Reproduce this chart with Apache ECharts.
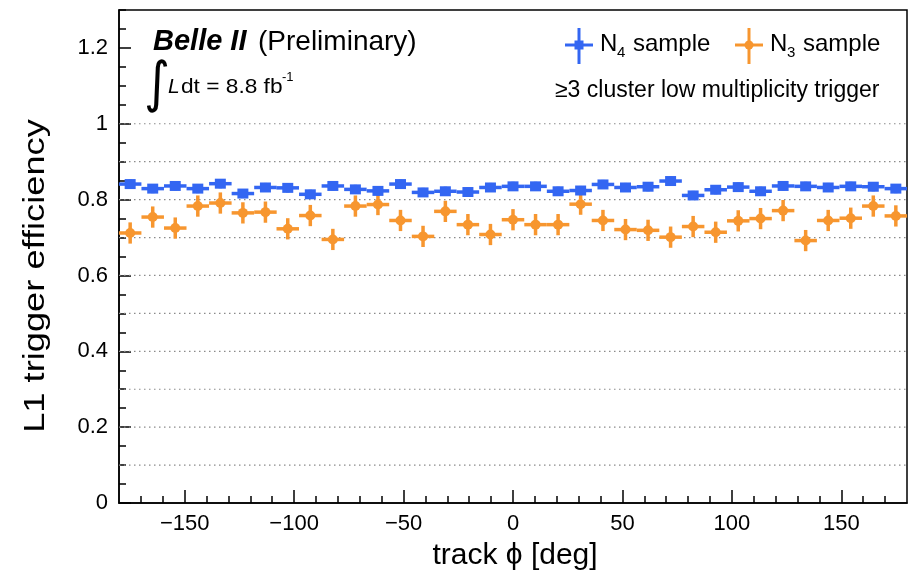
<!DOCTYPE html>
<html><head><meta charset="utf-8">
<script src="https://cdn.jsdelivr.net/npm/echarts@6/dist/echarts.min.js"></script>
<style>html,body{margin:0;padding:0;background:#fff}#c{width:915px;height:575px}</style>
</head><body><div id="c"></div>
<script>
// bin centres of track phi (35 bins over -180..180 deg)
const phiCenters = [-174.9,-164.6,-154.3,-144.0,-133.7,-123.4,-113.1,-102.9,-92.6,-82.3,-72.0,-61.7,-51.4,-41.1,-30.9,-20.6,-10.3,0,
  10.3,20.6,30.9,41.1,51.4,61.7,72.0,82.3,92.6,102.9,113.1,123.4,133.7,144.0,154.3,164.6,174.9];
const binHalfWidth = 5.14;
const n4Eff = [0.841,0.829,0.836,0.829,0.842,0.816,0.832,0.831,0.814,0.836,0.827,0.823,0.841,0.819,0.822,0.820,0.832,0.835,
  0.835,0.822,0.824,0.840,0.832,0.834,0.849,0.811,0.826,0.833,0.822,0.836,0.835,0.832,0.835,0.834,0.829];
const n4Err = [0.012,0.012,0.012,0.012,0.012,0.012,0.012,0.012,0.012,0.012,0.012,0.012,0.012,0.012,0.012,0.012,0.012,0.012,
  0.012,0.012,0.012,0.012,0.012,0.012,0.012,0.012,0.012,0.012,0.012,0.012,0.012,0.012,0.012,0.012,0.012];
const n3Eff = [0.712,0.754,0.725,0.783,0.791,0.765,0.767,0.723,0.758,0.695,0.783,0.787,0.745,0.703,0.769,0.734,0.708,0.747,
  0.734,0.734,0.788,0.745,0.721,0.719,0.701,0.729,0.714,0.744,0.750,0.771,0.692,0.745,0.751,0.783,0.757];
const n3Err = [0.028,0.028,0.028,0.028,0.028,0.028,0.028,0.028,0.028,0.028,0.028,0.028,0.028,0.028,0.028,0.028,0.028,0.028,
  0.028,0.028,0.028,0.028,0.028,0.028,0.028,0.028,0.028,0.028,0.028,0.028,0.028,0.028,0.028,0.028,0.028];
const xMajorTicks = [-150,-100,-50,0,50,100,150];
const xMinorTicks = [-170,-160,-140,-130,-120,-110,-90,-80,-70,-60,-40,-30,-20,-10,10,20,30,40,60,70,80,90,110,120,130,140,160,170];
const yMajorTicks = [0,0.2,0.4,0.6,0.8,1.0,1.2];
const yMinorTicks = [0.05,0.1,0.15,0.25,0.3,0.35,0.45,0.5,0.55,0.65,0.7,0.75,0.85,0.9,0.95,1.05,1.1,1.15,1.25,1.3];
const gridLevels = [0.1,0.2,0.3,0.4,0.5,0.6,0.7,0.8,0.9,1.0];

const BLUE = '#3366f2', ORANGE = '#f7962f';
const FONT = 'Liberation Sans';

function errRender(kind, color) {
  return function (params, api) {
    const x = api.value(0), y = api.value(1), ex = api.value(2), ey = api.value(3);
    const pL = api.coord([x - ex, y]), pR = api.coord([x + ex, y]);
    const pT = api.coord([x, y + ey]), pB = api.coord([x, y - ey]);
    const c = api.coord([x, y]);
    const st = { stroke: color, lineWidth: 3.5 };
    const ch = [
      { type: 'line', shape: { x1: pL[0], y1: pL[1], x2: pR[0], y2: pR[1] }, style: st },
      { type: 'line', shape: { x1: pT[0], y1: pT[1], x2: pB[0], y2: pB[1] }, style: st }
    ];
    if (kind === 'square') ch.push({ type: 'rect', shape: { x: c[0] - 5.5, y: c[1] - 5, width: 11, height: 10 }, style: { fill: color } });
    else ch.push({ type: 'circle', shape: { cx: c[0], cy: c[1], r: 5 }, style: { fill: color } });
    return { type: 'group', children: ch };
  };
}

const n4Data = phiCenters.map((x, i) => [x, n4Eff[i], binHalfWidth, n4Err[i]]);
const n3Data = phiCenters.map((x, i) => [x, n3Eff[i], binHalfWidth, n3Err[i]]);

const axisCommon = { type: 'value', splitLine: { show: false } };

const chart = echarts.init(document.getElementById('c'), null, { renderer: 'canvas' });
chart.setOption({
  animation: false,
  backgroundColor: '#fff',
  grid: { left: 119, right: 8, top: 10, bottom: 72, show: true, borderColor: '#000', borderWidth: 1.5, backgroundColor: 'transparent' },
  xAxis: [
    Object.assign({}, axisCommon, {
      min: -180, max: 180, position: 'bottom',
      axisLine: { show: true, onZero: false, lineStyle: { color: '#000', width: 1.5 } },
      axisTick: { show: true, inside: true, length: 13, customValues: xMajorTicks, lineStyle: { color: '#000', width: 1.5 } },
      axisLabel: { show: true, customValues: xMajorTicks, color: '#000', fontSize: 22, fontFamily: FONT, margin: 10,
        formatter: v => (v < 0 ? '\u2212' + (-v) : '' + v) }
    }),
    Object.assign({}, axisCommon, {
      min: -180, max: 180, position: 'bottom',
      axisLine: { show: false, onZero: false },
      axisTick: { show: true, inside: true, length: 7, customValues: xMinorTicks, lineStyle: { color: '#000', width: 1.5 } },
      axisLabel: { show: false }
    })
  ],
  yAxis: [
    Object.assign({}, axisCommon, {
      min: 0, max: 1.3, position: 'left',
      axisLine: { show: true, onZero: false, lineStyle: { color: '#000', width: 1.5 } },
      axisTick: { show: true, inside: true, length: 12, customValues: yMajorTicks, lineStyle: { color: '#000', width: 1.5 } },
      axisLabel: { show: true, customValues: yMajorTicks, color: '#000', fontSize: 22, fontFamily: FONT, margin: 11,
        formatter: v => (Math.abs(v) < 1e-9 ? '0' : (Math.abs(v - 1) < 1e-9 ? '1' : v.toFixed(1))) }
    }),
    Object.assign({}, axisCommon, {
      min: 0, max: 1.3, position: 'left',
      axisLine: { show: false, onZero: false },
      axisTick: { show: true, inside: true, length: 7, customValues: yMinorTicks, lineStyle: { color: '#000', width: 1.5 } },
      axisLabel: { show: false }
    })
  ],
  series: [
    {
      type: 'custom', name: 'grid', xAxisIndex: 0, yAxisIndex: 0, silent: true, z: 1,
      data: gridLevels.map(v => [v]),
      renderItem: function (params, api) {
        const v = api.value(0);
        const a = api.coord([-180, v]), b = api.coord([180, v]);
        return { type: 'line', shape: { x1: a[0], y1: a[1], x2: b[0], y2: b[1] },
          style: { stroke: '#8a8a8a', lineWidth: 1.2, lineDash: [1.5, 3.5] } };
      }
    },
    { type: 'custom', name: 'N3 sample', xAxisIndex: 0, yAxisIndex: 0, z: 3, data: n3Data, renderItem: errRender('circle', ORANGE) },
    { type: 'custom', name: 'N4 sample', xAxisIndex: 0, yAxisIndex: 0, z: 4, data: n4Data, renderItem: errRender('square', BLUE) }
  ],
  graphic: [
    { type: 'text', x: 153, y: 42, style: { text: 'Belle II', font: 'italic bold 29px "Liberation Sans"', fill: '#000', textVerticalAlign: 'middle' } },
    { type: 'text', x: 258, y: 42, style: { text: '(Preliminary)', font: '28px "Liberation Sans"', fill: '#000', textVerticalAlign: 'middle' } },
    { type: 'text', x: 144, y: 87, scaleY: 1.1, style: { text: '\u222B', font: '50px "DejaVu Sans"', fill: '#000', textVerticalAlign: 'middle' } },
    { type: 'text', x: 168, y: 87, style: { text: 'L', font: 'italic 21px "Liberation Sans"', fill: '#000', textVerticalAlign: 'middle' } },
    { type: 'text', x: 181, y: 87, scaleX: 1.08, style: { text: 'dt = 8.8 fb', font: '21px "Liberation Sans"', fill: '#000', textVerticalAlign: 'middle' } },
    { type: 'text', x: 282, y: 77, style: { text: '-1', font: '13px "Liberation Sans"', fill: '#000', textVerticalAlign: 'middle' } },
    // legend N4
    { type: 'line', shape: { x1: 565, y1: 45, x2: 593, y2: 45 }, style: { stroke: BLUE, lineWidth: 3 } },
    { type: 'line', shape: { x1: 579, y1: 28, x2: 579, y2: 64 }, style: { stroke: BLUE, lineWidth: 3 } },
    { type: 'rect', shape: { x: 574.5, y: 40.5, width: 9, height: 9 }, style: { fill: BLUE } },
    { type: 'text', x: 600, y: 44, style: { text: 'N', font: '24px "Liberation Sans"', fill: '#000', textVerticalAlign: 'middle' } },
    { type: 'text', x: 617, y: 53, style: { text: '4', font: '15px "Liberation Sans"', fill: '#000', textVerticalAlign: 'middle' } },
    { type: 'text', x: 633, y: 44, style: { text: 'sample', font: '24px "Liberation Sans"', fill: '#000', textVerticalAlign: 'middle' } },
    // legend N3
    { type: 'line', shape: { x1: 735, y1: 45, x2: 763, y2: 45 }, style: { stroke: ORANGE, lineWidth: 3 } },
    { type: 'line', shape: { x1: 749, y1: 28, x2: 749, y2: 64 }, style: { stroke: ORANGE, lineWidth: 3 } },
    { type: 'circle', shape: { cx: 749, cy: 45, r: 4.5 }, style: { fill: ORANGE } },
    { type: 'text', x: 770, y: 44, style: { text: 'N', font: '24px "Liberation Sans"', fill: '#000', textVerticalAlign: 'middle' } },
    { type: 'text', x: 787, y: 53, style: { text: '3', font: '15px "Liberation Sans"', fill: '#000', textVerticalAlign: 'middle' } },
    { type: 'text', x: 803, y: 44, style: { text: 'sample', font: '24px "Liberation Sans"', fill: '#000', textVerticalAlign: 'middle' } },
    { type: 'text', x: 555, y: 91, style: { text: '\u22653 cluster low multiplicity trigger', font: '23px "Liberation Sans"', fill: '#000', textVerticalAlign: 'middle' } },
    // axis titles
    { type: 'text', x: 515, y: 556, style: { text: 'track \u03D5 [deg]', font: '30px "Liberation Sans"', fill: '#000', textAlign: 'center', textVerticalAlign: 'middle' } },
    { type: 'text', x: 36, y: 276, rotation: Math.PI / 2, scaleX: 1.25, style: { text: 'L1 trigger efficiency', font: '29px "Liberation Sans"', fill: '#000', textAlign: 'center', textVerticalAlign: 'middle' } }
  ]
});
</script></body></html>
